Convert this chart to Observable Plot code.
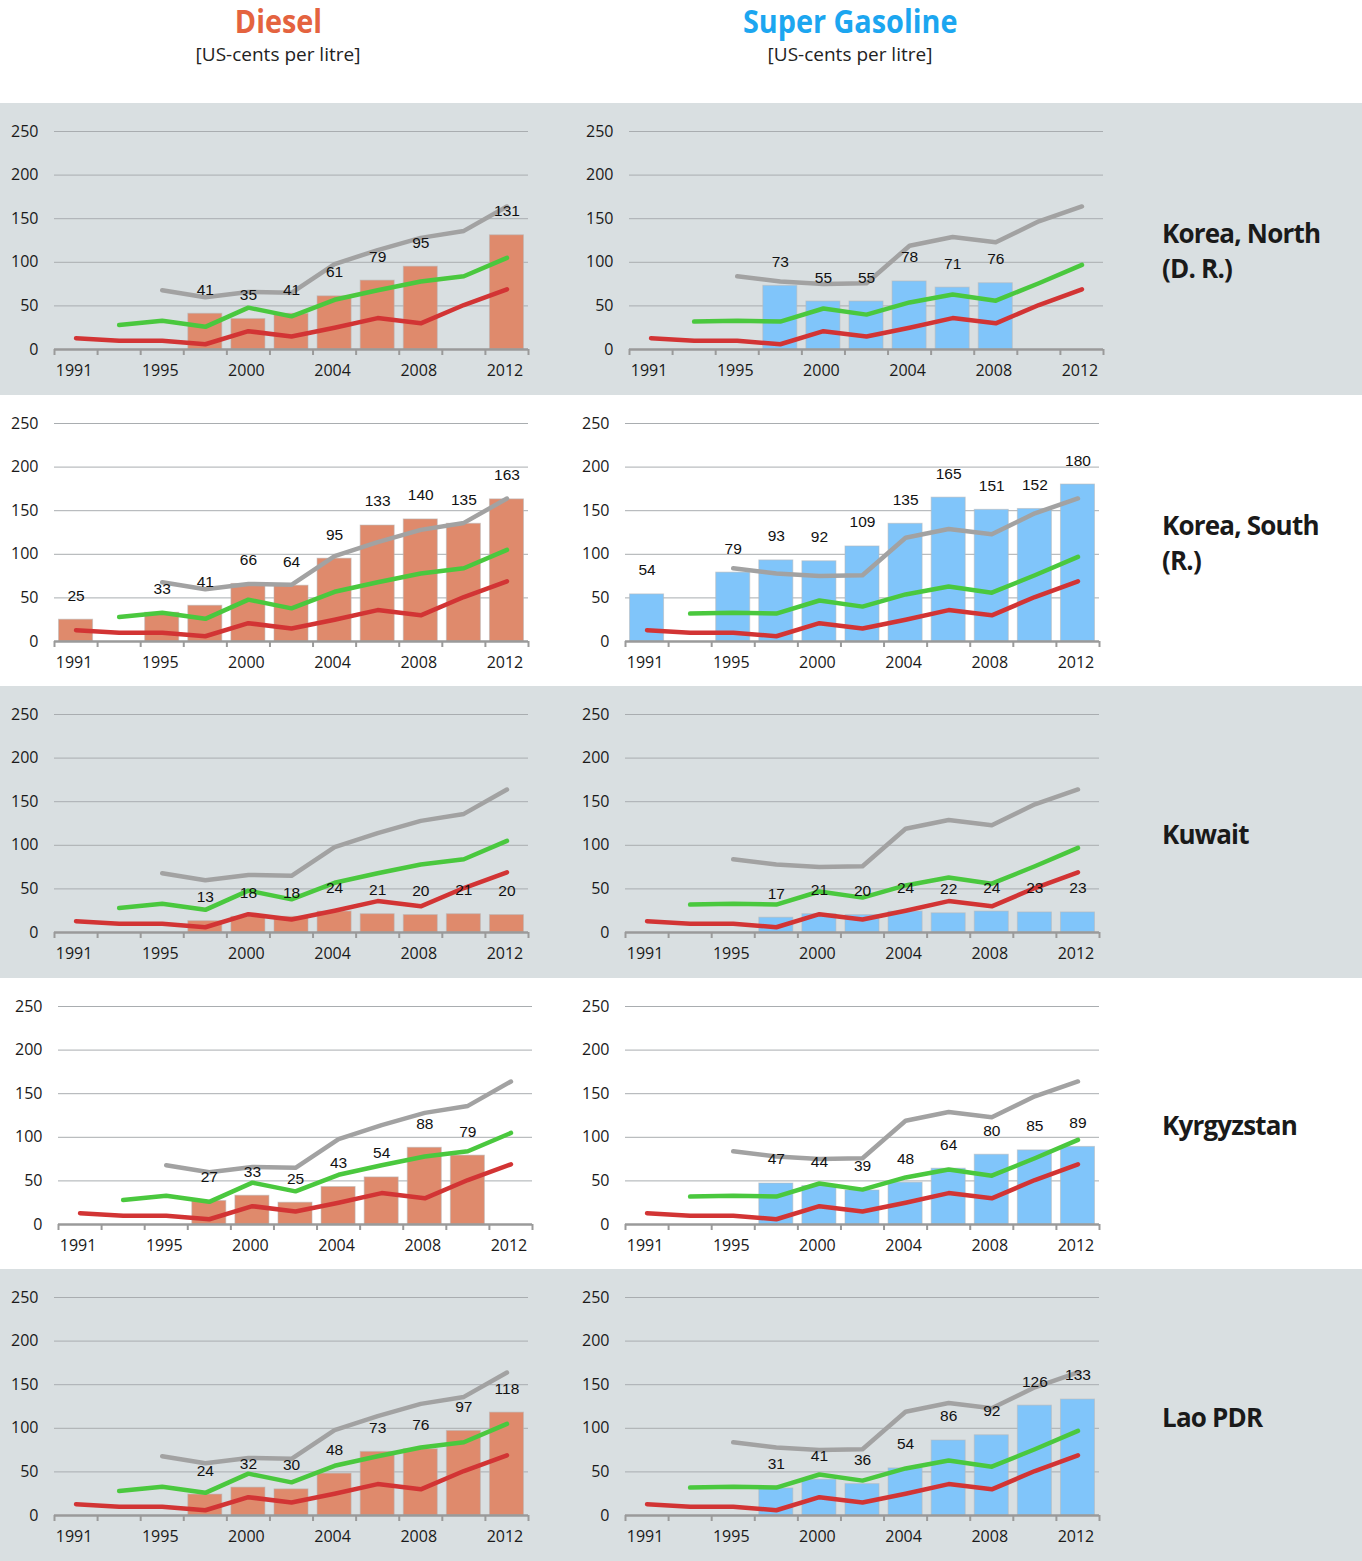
<!DOCTYPE html>
<html>
<head>
<meta charset="utf-8">
<script src="https://cdn.jsdelivr.net/npm/d3@7"></script>
<script src="https://cdn.jsdelivr.net/npm/@observablehq/plot@0.6"></script>
<style>
  html, body { margin: 0; padding: 0; background: #fff; }
  #page { position: relative; width: 1362px; height: 1561px; overflow: hidden; font-family: "Open Sans", sans-serif; }
  .title { position: absolute; top: 3px; width: 400px; text-align: center; font-weight: 700; font-size: 32px; line-height: 36px; }
  .title span { display: inline-block; transform: scaleX(0.9); }
  .sub { position: absolute; top: 42px; width: 400px; text-align: center; font-size: 19px; line-height: 24px; color: #222; }
  .row { position: absolute; left: 0; width: 1362px; }
  .panel { position: absolute; top: 0; width: 560px; }
  .country { position: absolute; left: 1162px; font-weight: 700; font-size: 26px; line-height: 35px; letter-spacing: -0.8px; color: #1a1a1a; white-space: nowrap; }
</style>
</head>
<body>
<div id="page"></div>
<script>
// ---------- DATA ----------
const years = ["1991", "1993", "1995", "1998", "2000", "2002", "2004", "2006", "2008", "2010", "2012"];
const tickYears = ["1991", "1995", "2000", "2004", "2008", "2012"];
const yTicks = [0, 50, 100, 150, 200, 250];

const countryLines = [
  ["Korea, North", "(D. R.)"],
  ["Korea, South", "(R.)"],
  ["Kuwait"],
  ["Kyrgyzstan"],
  ["Lao PDR"]
];

// Diesel retail prices (US-cents per litre)
const dieselKoreaNorth = [null, null, null, 41, 35, 41, 61, 79, 95, null, 131];
const dieselKoreaSouth = [25, null, 33, 41, 66, 64, 95, 133, 140, 135, 163];
const dieselKuwait     = [null, null, null, 13, 18, 18, 24, 21, 20, 21, 20];
const dieselKyrgyzstan = [null, null, null, 27, 33, 25, 43, 54, 88, 79, null];
const dieselLao        = [null, null, null, 24, 32, 30, 48, 73, 76, 97, 118];

// Super gasoline retail prices (US-cents per litre)
const gasKoreaNorth = [null, null, null, 73, 55, 55, 78, 71, 76, null, null];
const gasKoreaSouth = [54, null, 79, 93, 92, 109, 135, 165, 151, 152, 180];
const gasKuwait     = [null, null, null, 17, 21, 20, 24, 22, 24, 23, 23];
const gasKyrgyzstan = [null, null, null, 47, 44, 39, 48, 64, 80, 85, 89];
const gasLao        = [null, null, null, 31, 41, 36, 54, 86, 92, 126, 133];

// Benchmark lines (same in every panel of a column)
const dieselGray  = [null, null, 68, 60, 66, 65, 98, 114, 128, 136, 164];
const dieselGreen = [null, 28, 33, 26, 48, 38, 57, 68, 78, 84, 105];
const dieselRed   = [13, 10, 10, 6, 21, 15, 25, 36, 30, 51, 69];
const gasGray     = [null, null, 84, 78, 75, 76, 119, 129, 123, 147, 164];
const gasGreen    = [null, 32, 33, 32, 47, 40, 54, 63, 56, 76, 97];
const gasRed      = [13, 10, 10, 6, 21, 15, 25, 36, 30, 51, 69];

const dieselSeries = [dieselKoreaNorth, dieselKoreaSouth, dieselKuwait, dieselKyrgyzstan, dieselLao];
const gasSeries = [gasKoreaNorth, gasKoreaSouth, gasKuwait, gasKyrgyzstan, gasLao];

// ---------- LAYOUT / STYLE ----------
const ROW_TOP = 103, ROW_H = 291.6;
const rowBg = ["#d9dfe1", "#ffffff", "#d9dfe1", "#ffffff", "#d9dfe1"];
const dieselLeft = [54, 54, 54, 58, 54];
const gasLeft = [629, 625, 625, 625, 625];
const GAS_SVG_X = 570, SVG_W = 560, PLOT_W = 474;

const C = {
  dieselBar: "#df8a6c", gasBar: "#80c5fa",
  gray: "#a2a2a2", green: "#4ac83e", red: "#d23434",
  grid: "#a9adb0", axis: "#9a9a9a", text: "#1a1a1a"
};

const page = document.getElementById("page");

function addTitle(text, color, cx) {
  const t = document.createElement("div");
  t.className = "title";
  t.style.left = (cx - 200) + "px";
  t.style.color = color;
  t.innerHTML = `<span>${text}</span>`;
  page.appendChild(t);
  const s = document.createElement("div");
  s.className = "sub";
  s.style.left = (cx - 200) + "px";
  s.textContent = "[US-cents per litre]";
  page.appendChild(s);
}
addTitle("Diesel", "#e4633f", 278);
addTitle("Super Gasoline", "#1ca6f0", 850);

const toRows = arr => arr.map((v, i) => ({i, v})).filter(d => d.v != null);

function panel(values, barColor, lines, mL) {
  const bars = toRows(values);
  const mR = SVG_W - mL - PLOT_W;
  const boundaries = d3.range(years.length + 1).map(k => k - 0.5);
  const labelIdx = tickYears.map(y => years.indexOf(y));
  return Plot.plot({
    width: SVG_W, height: 292,
    marginLeft: mL, marginRight: mR, marginTop: 28, marginBottom: 46,
    style: {background: "transparent", overflow: "visible"},
    x: {type: "linear", domain: [-0.5, years.length - 0.5], axis: null, label: null},
    y: {domain: [0, 250], axis: null, label: null},
    marks: [
      Plot.gridY(yTicks.slice(1), {stroke: C.grid, strokeOpacity: 1, strokeWidth: 1}),
      Plot.rect(bars, {x1: d => d.i - 0.395, x2: d => d.i + 0.395, y1: 0, y2: "v",
        fill: barColor, stroke: "#b8b8b8", strokeOpacity: 0.55, strokeWidth: 1}),
      ...lines.map(([arr, color]) => Plot.line(toRows(arr), {x: "i", y: "v", stroke: color,
        strokeWidth: 4.5, strokeLinecap: "round", strokeLinejoin: "round"})),
      Plot.text(bars, {x: "i", y: "v", text: d => String(d.v), dy: -24,
        fontSize: 15.5, fontFamily: "Liberation Sans, Arial, sans-serif", fill: "#111"}),
      Plot.ruleY([0], {stroke: C.axis, strokeWidth: 2.5}),
      Plot.axisX(boundaries, {tickSize: 6, tickFormat: () => "", stroke: C.axis, strokeWidth: 2, label: null}),
      Plot.axisX(labelIdx, {tickSize: 0, tickPadding: 15, tickFormat: i => years[i], dx: -2,
        fontSize: 16, fontFamily: "Open Sans", fill: C.text, label: null}),
      Plot.axisY(yTicks, {tickSize: 0, tickPadding: 16, fontSize: 16, fontFamily: "Open Sans",
        fill: C.text, label: null})
    ]
  });
}

countryLines.forEach((lines, r) => {
  const row = document.createElement("div");
  row.className = "row";
  row.style.top = (ROW_TOP + r * ROW_H) + "px";
  row.style.height = (r === 4 ? 1561 - (ROW_TOP + 4 * ROW_H) : ROW_H + 0.5) + "px";
  row.style.background = rowBg[r];
  page.appendChild(row);

  const pd = document.createElement("div");
  pd.className = "panel";
  pd.style.left = "0px";
  pd.appendChild(panel(dieselSeries[r], C.dieselBar,
    [[dieselGray, C.gray], [dieselGreen, C.green], [dieselRed, C.red]], dieselLeft[r]));
  row.appendChild(pd);

  const pg = document.createElement("div");
  pg.className = "panel";
  pg.style.left = GAS_SVG_X + "px";
  pg.appendChild(panel(gasSeries[r], C.gasBar,
    [[gasGray, C.gray], [gasGreen, C.green], [gasRed, C.red]], gasLeft[r] - GAS_SVG_X));
  row.appendChild(pg);

  const c = document.createElement("div");
  c.className = "country";
  c.style.top = (148 - lines.length * 35 / 2) + "px";
  c.innerHTML = lines.join("<br>");
  row.appendChild(c);
});
</script>
</body>
</html>
